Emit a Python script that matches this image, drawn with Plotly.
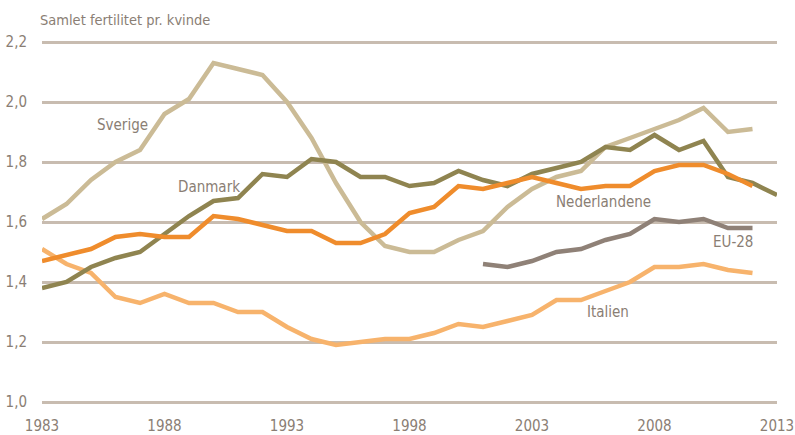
import plotly.graph_objects as go

years = list(range(1983, 2014))

sverige = [1.61, 1.66, 1.74, 1.80, 1.84, 1.96, 2.01, 2.13, 2.11, 2.09, 2.00, 1.88, 1.73, 1.60,
           1.52, 1.50, 1.50, 1.54, 1.57, 1.65, 1.71, 1.75, 1.77, 1.85, 1.88, 1.91, 1.94, 1.98,
           1.90, 1.91, None]
danmark = [1.38, 1.40, 1.45, 1.48, 1.50, 1.56, 1.62, 1.67, 1.68, 1.76, 1.75, 1.81, 1.80, 1.75,
           1.75, 1.72, 1.73, 1.77, 1.74, 1.72, 1.76, 1.78, 1.80, 1.85, 1.84, 1.89, 1.84, 1.87,
           1.75, 1.73, 1.69]
nederlandene = [1.47, 1.49, 1.51, 1.55, 1.56, 1.55, 1.55, 1.62, 1.61, 1.59, 1.57, 1.57, 1.53, 1.53,
                1.56, 1.63, 1.65, 1.72, 1.71, 1.73, 1.75, 1.73, 1.71, 1.72, 1.72, 1.77, 1.79, 1.79,
                1.76, 1.72, None]
italien = [1.51, 1.46, 1.43, 1.35, 1.33, 1.36, 1.33, 1.33, 1.30, 1.30, 1.25, 1.21, 1.19, 1.20,
           1.21, 1.21, 1.23, 1.26, 1.25, 1.27, 1.29, 1.34, 1.34, 1.37, 1.40, 1.45, 1.45, 1.46,
           1.44, 1.43, None]
eu28 = [None] * 18 + [1.46, 1.45, 1.47, 1.50, 1.51, 1.54, 1.56, 1.61, 1.60, 1.61, 1.58, 1.58, None]

series = [
    ("Italien", italien, "#f7b36c"),
    ("Sverige", sverige, "#cbbb96"),
    ("EU-28", eu28, "#8f8177"),
    ("Danmark", danmark, "#8f8450"),
    ("Nederlandene", nederlandene, "#ef8c2c"),
]

label_text = ["Sverige", "Danmark", "Nederlandene", "EU-28", "Italien"]
label_x = [1986.3, 1989.8, 2005.9, 2011.2, 2006.1]
label_y = [1.923, 1.717, 1.667, 1.533, 1.30]

x_ticks = [1983, 1988, 1993, 1998, 2003, 2008, 2013]
y_ticks = [1.0, 1.2, 1.4, 1.6, 1.8, 2.0, 2.2]

FONT = "DejaVu Sans Condensed, Liberation Sans Narrow, Roboto Condensed, Liberation Sans, sans-serif"
TXT = "#8a7e74"
GRID = "#c8bcb0"

fig = go.Figure()
for name, vals, col in series:
    fig.add_trace(go.Scatter(x=years, y=vals, mode="lines", name=name,
                             line=dict(color=col, width=4.5), connectgaps=False,
                             hoverinfo="skip"))

for t, x, y in zip(label_text, label_x, label_y):
    fig.add_annotation(x=x, y=y, text=t, showarrow=False, xanchor="center", yanchor="middle",
                       font=dict(family=FONT, size=15, color=TXT))

fig.add_annotation(xref="paper", yref="paper", x=-0.006, y=1.052, text="Samlet fertilitet pr. kvinde",
                   showarrow=False, xanchor="left", yanchor="middle",
                   font=dict(family=FONT, size=14.5, color=TXT))

fig.update_layout(
    width=795, height=435,
    margin=dict(l=42, r=18, t=39, b=30, autoexpand=False),
    paper_bgcolor="white", plot_bgcolor="white",
    showlegend=False,
    separators=",.",
    font=dict(family=FONT, size=15, color=TXT),
)
fig.update_xaxes(range=[1983, 2013], tickvals=x_ticks, ticktext=[str(v) for v in x_ticks],
                 showgrid=False, zeroline=False, showline=False, ticks="", automargin=False,
                 ticklabeloverflow="allow",
                 tickfont=dict(family=FONT, size=15, color=TXT), ticklabelstandoff=10)
fig.update_yaxes(range=[0.99, 2.21], tickvals=y_ticks, tickformat=".1f", automargin=False,
                 showgrid=True, gridcolor=GRID, gridwidth=3, zeroline=False, showline=False,
                 ticks="", tickfont=dict(family=FONT, size=15, color=TXT), ticklabelstandoff=14)

fig.write_html(
    "out.html",
    config={"displayModeBar": False, "staticPlot": True},
    post_script="document.body.style.margin='0';document.body.style.overflow='hidden';"
                "document.documentElement.style.overflow='hidden';",
)
